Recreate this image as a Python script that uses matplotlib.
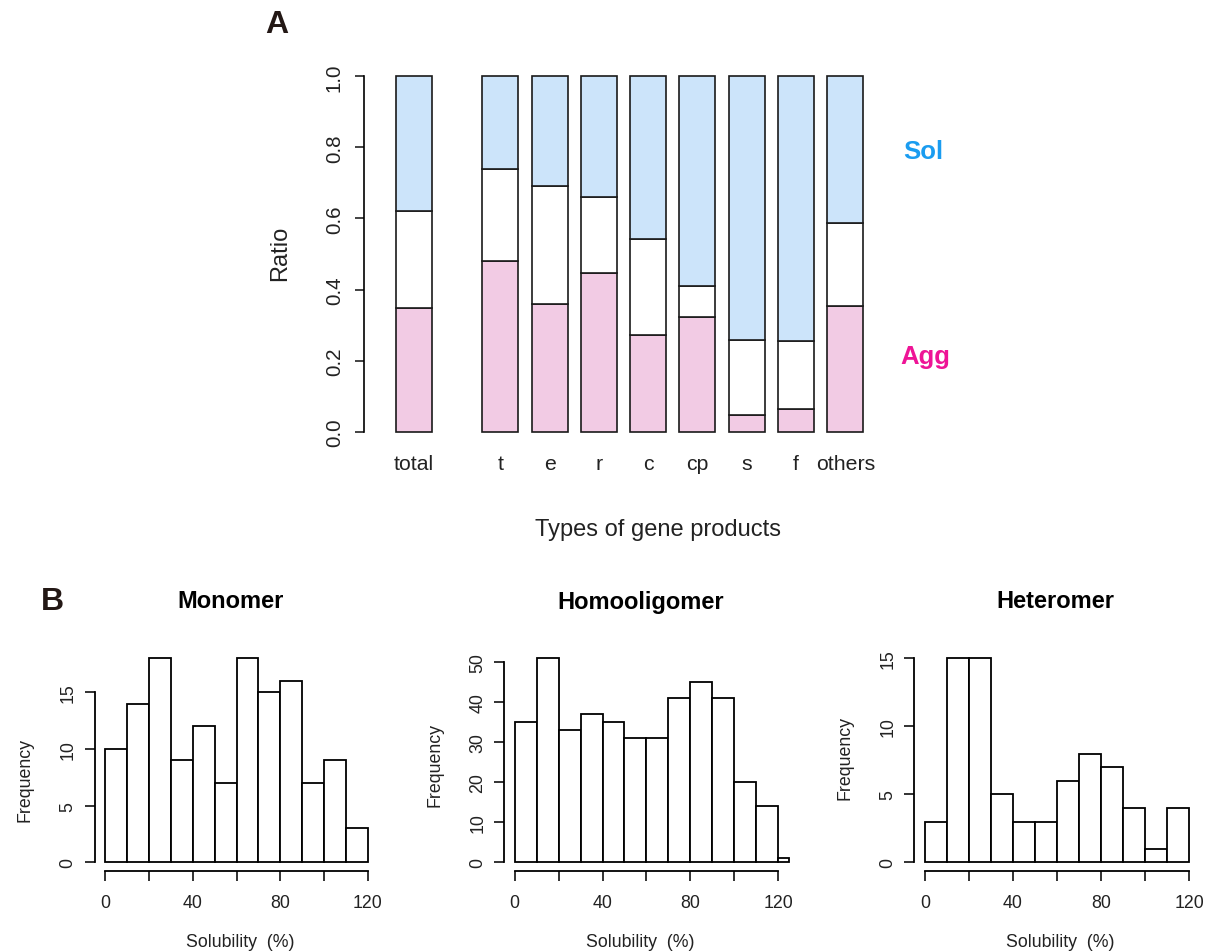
import matplotlib
matplotlib.use("Agg")
import matplotlib.pyplot as plt
import numpy as np

plt.rcParams['font.family'] = ['Liberation Sans', 'DejaVu Sans']

# ---- Panel A data ----
categories = ["total", "t", "e", "r", "c", "cp", "s", "f", "others"]
agg = [0.347, 0.480, 0.358, 0.447, 0.271, 0.323, 0.047, 0.065, 0.354]
mid_top = [0.622, 0.740, 0.691, 0.661, 0.542, 0.411, 0.257, 0.255, 0.586]
ytick_a = [0.0, 0.2, 0.4, 0.6, 0.8, 1.0]

# ---- Panel B data ----
bin_edges = [0, 10, 20, 30, 40, 50, 60, 70, 80, 90, 100, 110, 120]
monomer_counts = [10, 14, 18, 9, 12, 7, 18, 15, 16, 7, 9, 3]
homo_counts = [35, 51, 33, 37, 35, 31, 31, 41, 45, 41, 20, 14]
homo_extra_edges = [120, 125]
homo_extra_counts = [1]
hetero_counts = [3, 15, 15, 5, 3, 3, 6, 8, 7, 4, 1, 4]

W, H = 1205, 953
fig = plt.figure(figsize=(W / 100, H / 100), dpi=100)


def px_axes(left, top, right, bottom):
    return fig.add_axes([left / W, 1 - bottom / H, (right - left) / W, (bottom - top) / H])


def fx(x):
    return x / W


def fy(y):
    return 1 - y / H


# ---------------- Panel A ----------------
blue = "#CCE4FA"
pink = "#F2CBE4"
positions = [0, 1.75, 2.75, 3.75, 4.75, 5.75, 6.75, 7.75, 8.75]
bw = 0.73
axA = px_axes(364, 63.1, 890, 446.9)
agg_a = np.array(agg)
mid_a = np.array(mid_top) - agg_a
sol_a = 1 - np.array(mid_top)
ec = "#1a1a1a"
axA.bar(positions, agg_a, width=bw, color=pink, edgecolor=ec, linewidth=1.2)
axA.bar(positions, mid_a, bottom=agg_a, width=bw, color="white", edgecolor=ec, linewidth=1.2)
axA.bar(positions, sol_a, bottom=np.array(mid_top), width=bw, color=blue, edgecolor=ec, linewidth=1.2)
axA.set_xlim(-1.014, 9.655)
axA.set_ylim(-0.04, 1.04)
for s in ["top", "right", "bottom"]:
    axA.spines[s].set_visible(False)
axA.spines["left"].set_bounds(0, 1)
axA.spines["left"].set_linewidth(1.2)
axA.set_yticks(ytick_a)
axA.set_yticklabels([f"{v:.1f}" for v in ytick_a], rotation=90, va="center", fontsize=14.8)
axA.tick_params(axis="y", length=6.5, width=1.2, pad=8, colors="#222222")
axA.set_xticks(positions)
axA.set_xticklabels(categories, fontsize=15.3)
axA.tick_params(axis="x", length=0, pad=5.5, colors="#222222")
fig.text(fx(280), fy(253), "Ratio", rotation=90, ha="center", va="center", fontsize=17, color="#222222")
fig.text(fx(658), fy(530), "Types of gene products", ha="center", va="center", fontsize=17, color="#222222")
fig.text(fx(923), fy(152), "Sol", ha="center", va="center", fontsize=18.5, fontweight="bold", color="#1A9CF0")
fig.text(fx(925), fy(357), "Agg", ha="center", va="center", fontsize=18.5, fontweight="bold", color="#EE1496")
fig.text(fx(277), fy(25), "A", ha="center", va="center", fontsize=23, fontweight="bold", color="#231815")
fig.text(fx(52), fy(602), "B", ha="center", va="center", fontsize=23, fontweight="bold", color="#231815")


# ---------------- Panel B ----------------
def hist_panel(box, xlim, ymax, counts, yticks, title, title_xy, ylab_xy, xlab_xy, extra=None):
    ax = px_axes(*box)
    edges = np.array(bin_edges)
    ax.bar(edges[:-1], counts, width=np.diff(edges), align="edge", color="white",
           edgecolor="black", linewidth=1.3)
    if extra is not None:
        e2, c2 = extra
        e2 = np.array(e2)
        ax.bar(e2[:-1], c2, width=np.diff(e2), align="edge", color="white",
               edgecolor="black", linewidth=1.3)
    ax.set_xlim(*xlim)
    ax.set_ylim(-0.04 * ymax, 1.04 * ymax)
    for s in ["top", "right"]:
        ax.spines[s].set_visible(False)
    ax.spines["left"].set_bounds(yticks[0], yticks[-1])
    ax.spines["bottom"].set_bounds(0, 120)
    ax.spines["left"].set_linewidth(1.3)
    ax.spines["bottom"].set_linewidth(1.3)
    ax.set_xticks([0, 20, 40, 60, 80, 100, 120])
    ax.set_xticklabels(["0", "", "40", "", "80", "", "120"], fontsize=12.8)
    ax.set_yticks(yticks)
    ax.set_yticklabels([str(v) for v in yticks], rotation=90, va="center", fontsize=12.8)
    ax.tick_params(axis="both", length=7.5, width=1.3, colors="#222222")
    ax.tick_params(axis="x", pad=9.5)
    ax.tick_params(axis="y", pad=5.5)
    fig.text(fx(title_xy[0]), fy(title_xy[1]), title, ha="center", va="center",
             fontsize=17, fontweight="bold", color="black")
    fig.text(fx(ylab_xy[0]), fy(ylab_xy[1]), "Frequency", rotation=90, ha="center", va="center",
             fontsize=12.8, color="#222222")
    fig.text(fx(xlab_xy[0]), fy(xlab_xy[1]), "Solubility  (%)", ha="center", va="center",
             fontsize=12.8, color="#222222")
    return ax


# Monomer: 0->105px, 120->368px
hist_panel((94.5, 651.2, 378.5, 871.5), (-4.8, 124.8), 18, monomer_counts, [0, 5, 10, 15],
           "Monomer", (231, 602), (25, 780), (240, 943))
# Homooligomer: 0->514.7, 120->778.3
hist_panel((504.3, 651.2, 799.0, 871.5), (-4.73, 129.5), 51, homo_counts, [0, 10, 20, 30, 40, 50],
           "Homooligomer", (641, 602), (435, 765), (640, 943),
           extra=(homo_extra_edges, homo_extra_counts))
# Heteromer: 0->925, 120->1189
hist_panel((914.4, 651.2, 1199.6, 871.5), (-4.8, 124.8), 15, hetero_counts, [0, 5, 10, 15],
           "Heteromer", (1055, 602), (845, 758), (1060, 943))

fig.savefig("out.png", dpi=100)
